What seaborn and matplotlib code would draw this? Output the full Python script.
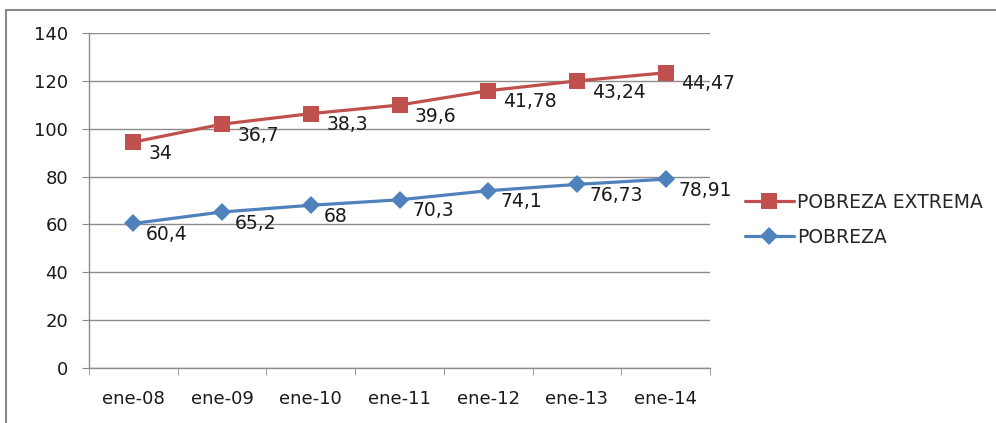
import pandas as pd
import matplotlib
matplotlib.use('Agg')
import matplotlib.pyplot as plt
from matplotlib.lines import Line2D
import seaborn as sns

# Datos (grafico de lineas apiladas, estilo Excel)
periodos = ['ene-08', 'ene-09', 'ene-10', 'ene-11', 'ene-12', 'ene-13', 'ene-14']
pobreza = [60.4, 65.2, 68, 70.3, 74.1, 76.73, 78.91]
pobreza_extrema = [34, 36.7, 38.3, 39.6, 41.78, 43.24, 44.47]
etiquetas_pobreza = ['60,4', '65,2', '68', '70,3', '74,1', '76,73', '78,91']
etiquetas_extrema = ['34', '36,7', '38,3', '39,6', '41,78', '43,24', '44,47']

azul = '#4F81BD'
rojo = '#C0504D'

# valores apilados
acumulado = [p + e for p, e in zip(pobreza, pobreza_extrema)]
df = pd.DataFrame({'Periodo': periodos * 2,
                   'Valor': pobreza + acumulado,
                   'Serie': ['POBREZA'] * 7 + ['POBREZA EXTREMA'] * 7})

sns.set_style('white')
plt.rcParams['font.family'] = ['DejaVu Sans']

fig = plt.figure(figsize=(9.96, 4.23), dpi=100)
ax = fig.add_axes([89 / 996, 1 - 368 / 423, 621 / 996, 335 / 423])

sns.lineplot(data=df, x='Periodo', y='Valor', hue='Serie', style='Serie',
             palette={'POBREZA': azul, 'POBREZA EXTREMA': rojo},
             markers={'POBREZA': 'D', 'POBREZA EXTREMA': 's'},
             dashes=False, linewidth=2.3, markeredgewidth=0, ax=ax, legend=False)
for l in ax.lines:
    if l.get_marker() == 's':
        l.set_markersize(12)
    else:
        l.set_markersize(9)

# etiquetas de datos
for i in range(len(periodos)):
    ax.annotate(etiquetas_pobreza[i], (i, pobreza[i]), xytext=(9, -8),
                textcoords='offset points', ha='left', va='center',
                fontsize=13.5, color='#1a1a1a')
    ax.annotate(etiquetas_extrema[i], (i, acumulado[i]), xytext=(11, -8),
                textcoords='offset points', ha='left', va='center',
                fontsize=13.5, color='#1a1a1a')

ax.set_ylim(0, 140)
ax.set_yticks(range(0, 141, 20))
ax.set_xlim(-0.5, 6.5)
ax.set_xticks(range(7))
ax.set_xticklabels(periodos)
ax.set_xticks([x - 0.5 for x in range(8)], minor=True)
ax.set_xlabel('')
ax.set_ylabel('')
ax.grid(axis='y', color='#8c8c8c', linewidth=1)
ax.set_axisbelow(True)
for s in ['top', 'right']:
    ax.spines[s].set_visible(False)
for s in ['left', 'bottom']:
    ax.spines[s].set_color('#8c8c8c')
    ax.spines[s].set_linewidth(1)
ax.tick_params(axis='y', which='major', left=True, length=5, color='#8c8c8c',
               labelsize=13, pad=10, labelcolor='#1a1a1a')
ax.tick_params(axis='x', which='major', bottom=False, length=0,
               labelsize=13, pad=16, labelcolor='#1a1a1a')
ax.tick_params(axis='x', which='minor', bottom=True, length=5, color='#8c8c8c')

handles = [Line2D([], [], color=rojo, lw=2.3, marker='s', markersize=12, markeredgewidth=0),
           Line2D([], [], color=azul, lw=2.3, marker='D', markersize=9, markeredgewidth=0)]
ax.legend(handles, ['POBREZA EXTREMA', 'POBREZA'], loc='center left',
          bbox_to_anchor=(1.056, 0.442), frameon=False, fontsize=13.5,
          handlelength=2.6, handletextpad=0.2, labelspacing=0.85,
          borderpad=0, borderaxespad=0)

# borde del grafico
fig.add_artist(Line2D([6 / 996, 6 / 996], [0, 1 - 10 / 423], color='#8a8a8a', lw=1.5))
fig.add_artist(Line2D([6 / 996, 1], [1 - 10 / 423, 1 - 10 / 423], color='#8a8a8a', lw=1.5))

fig.savefig('out.png', dpi=100)
